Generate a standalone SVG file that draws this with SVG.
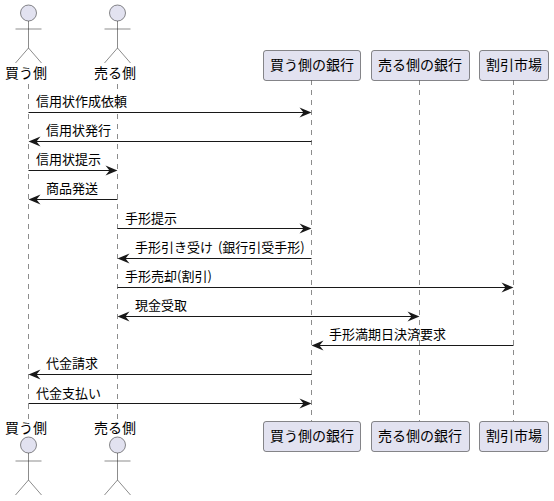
<svg xmlns="http://www.w3.org/2000/svg" width="554" height="501" viewBox="0 0 554 501">
<style>
text{font-family:"Noto Sans CJK JP","Noto Sans",sans-serif;fill:#000}
.p{font-size:14px;text-anchor:middle}
.m{font-size:13px;word-spacing:2px}
.life{stroke:#181818;stroke-width:.5;stroke-dasharray:5 5;fill:none}
.a{stroke:#181818;stroke-width:1;fill:none}
.box{fill:#E2E2F0;stroke:#181818;stroke-width:.5}
.head{fill:#E2E2F0;stroke:#181818;stroke-width:.5}
.body{stroke:#181818;stroke-width:.5;fill:none}
</style>
<defs>
<path id="r" d="M-12 -5L0 0L-12 5L-8 0Z" fill="#181818"/>
<path id="l" d="M12 -5L0 0L12 5L8 0Z" fill="#181818"/>
</defs>
<g id="lifelines">
<path class="life" d="M28.5 84V420"/>
<path class="life" d="M117.5 84V420"/>
<path class="life" d="M311.5 80V421"/>
<path class="life" d="M419.5 80V421"/>
<path class="life" d="M513.5 80V421"/>
</g>
<g id="actor-buyer">
<circle class="head" cx="28.500" cy="13" r="8"/><path class="body" d="M28.500 21V48M15.500 29H41.500M28.500 48L15.500 63M28.500 48L41.500 63"/>
<text class="p" x="26" y="78">買う側</text>
<text class="p" x="26" y="433">買う側</text>
<circle class="head" cx="28.500" cy="445" r="8"/><path class="body" d="M28.500 453V480M15.500 461H41.500M28.500 480L15.500 495M28.500 480L41.500 495"/>
</g>
<g id="actor-seller">
<circle class="head" cx="117.500" cy="13" r="8"/><path class="body" d="M117.500 21V48M104.500 29H130.500M117.500 48L104.500 63M117.500 48L130.500 63"/>
<text class="p" x="115" y="78">売る側</text>
<text class="p" x="115" y="433">売る側</text>
<circle class="head" cx="117.500" cy="445" r="8"/><path class="body" d="M117.500 453V480M104.500 461H130.500M117.500 480L104.500 495M117.500 480L130.500 495"/>
</g>
<g id="buyer-bank">
<rect class="box" x="263.500" y="50.500" width="97" height="30" rx="2.500"/><text class="p" x="312" y="70">買う側の銀行</text>
<rect class="box" x="263.500" y="421.500" width="97" height="30" rx="2.500"/><text class="p" x="312" y="441">買う側の銀行</text>
</g>
<g id="seller-bank">
<rect class="box" x="371.500" y="50.500" width="98" height="30" rx="2.500"/><text class="p" x="420" y="70">売る側の銀行</text>
<rect class="box" x="371.500" y="421.500" width="98" height="30" rx="2.500"/><text class="p" x="420" y="441">売る側の銀行</text>
</g>
<g id="discount-market">
<rect class="box" x="479.500" y="50.500" width="69" height="30" rx="2.500"/><text class="p" x="514" y="70">割引市場</text>
<rect class="box" x="479.500" y="421.500" width="69" height="30" rx="2.500"/><text class="p" x="514" y="441">割引市場</text>
</g>
<g id="connectors">
<path class="a" d="M28.500 112.500H307"/><use href="#r" x="311.500" y="112.500"/><text class="m" x="36" y="106">信用状作成依頼</text>
<path class="a" d="M311.500 141.500H33"/><use href="#l" x="28.500" y="141.500"/><text class="m" x="46" y="135">信用状発行</text>
<path class="a" d="M28.500 170.500H113"/><use href="#r" x="117.500" y="170.500"/><text class="m" x="36" y="164">信用状提示</text>
<path class="a" d="M117.500 199.500H33"/><use href="#l" x="28.500" y="199.500"/><text class="m" x="46" y="193">商品発送</text>
<path class="a" d="M117.500 228.500H307"/><use href="#r" x="311.500" y="228.500"/><text class="m" x="125" y="223">手形提示</text>
<path class="a" d="M311.500 258.500H122"/><use href="#l" x="117.500" y="258.500"/><text class="m" x="135" y="252">手形引き受け (銀行引受手形)</text>
<path class="a" d="M117.500 287.500H509"/><use href="#r" x="513.500" y="287.500"/><text class="m" x="125" y="281">手形売却(割引)</text>
<path class="a" d="M122 316.500H415"/><use href="#l" x="117.500" y="316.500"/><use href="#r" x="419.500" y="316.500"/><text class="m" x="135" y="310">現金受取</text>
<path class="a" d="M513.500 345.500H316"/><use href="#l" x="311.500" y="345.500"/><text class="m" x="329" y="339">手形満期日決済要求</text>
<path class="a" d="M311.500 374.500H33"/><use href="#l" x="28.500" y="374.500"/><text class="m" x="46" y="368">代金請求</text>
<path class="a" d="M28.500 403.500H307"/><use href="#r" x="311.500" y="403.500"/><text class="m" x="36" y="398">代金支払い</text>
</g>
</svg>
